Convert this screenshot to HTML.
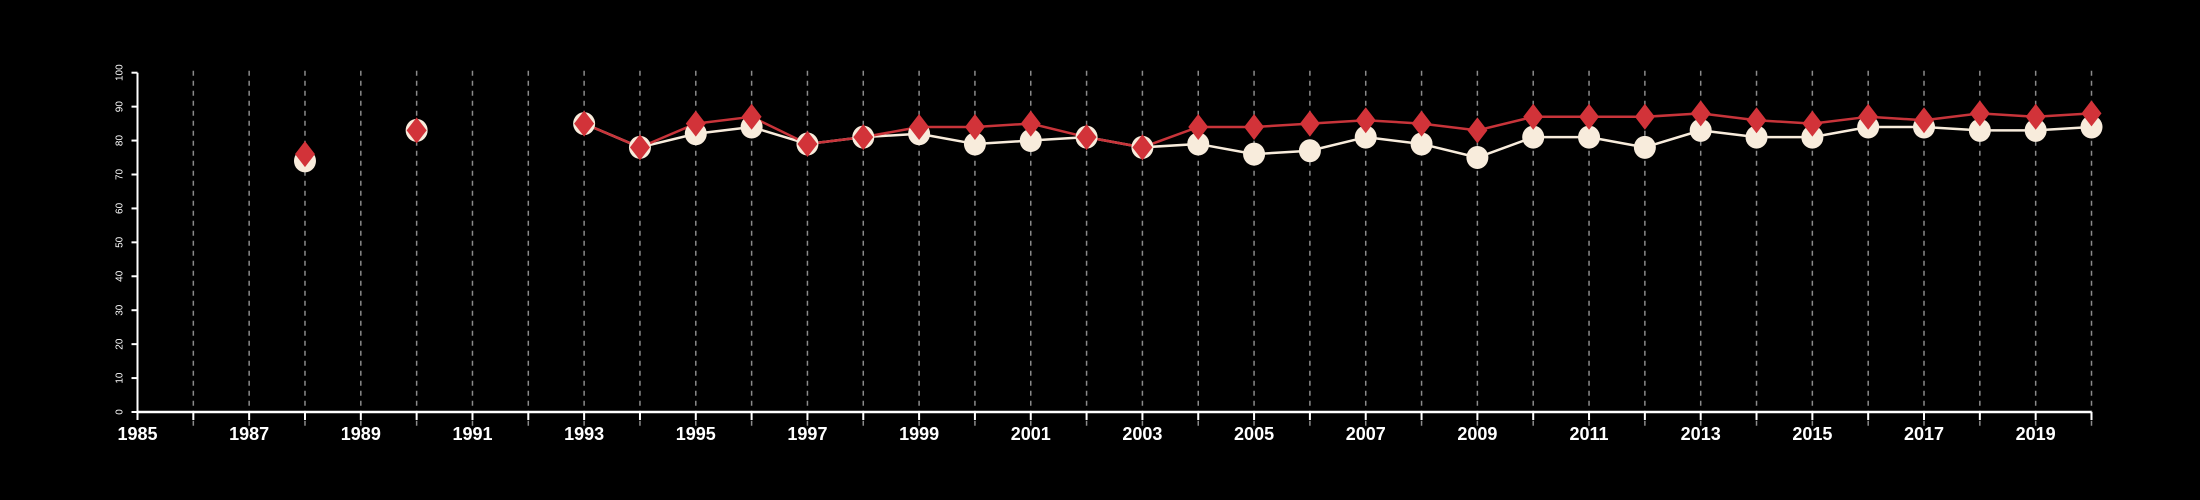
<!DOCTYPE html>
<html><head><meta charset="utf-8"><style>
html,body{margin:0;padding:0;background:#000;}
svg{display:block;font-family:"Liberation Sans",sans-serif;}
</style></head><body>
<svg id="chart" width="2200" height="500" viewBox="0 0 2200 500" xmlns="http://www.w3.org/2000/svg">
<rect width="2200" height="500" fill="#000"/>
<g id="grid"></g>
<g id="axes"></g>
<g id="series"></g>
</svg>
<script>
const years = [1988,1990,1993,1994,1995,1996,1997,1998,1999,2000,2001,2002,2003,2004,2005,2006,2007,2008,2009,2010,2011,2012,2013,2014,2015,2016,2017,2018,2019,2020];
const whiteValues = [74,83,85,78,82,84,79,81,82,79,80,81,78,79,76,77,81,79,75,81,81,78,83,81,81,84,84,83,83,84];
const redValues = [76,83,85,78,85,87,79,81,84,84,85,81,78,84,84,85,86,85,83,87,87,87,88,86,85,87,86,88,87,88];
const yTicks = [0,10,20,30,40,50,60,70,80,90,100];
const xLabels = [1985,1987,1989,1991,1993,1995,1997,1999,2001,2003,2005,2007,2009,2011,2013,2015,2017,2019];

const NS = "http://www.w3.org/2000/svg";
const X0 = 137.5, X1 = 2091.5, Y0 = 412, Y1 = 72.7;
const xMin = 1985, xMax = 2020;
const xs = v => X0 + (v - xMin) / (xMax - xMin) * (X1 - X0);
const ys = v => Y0 - v / 100 * (Y0 - Y1);
function mk(tag, attrs, parent){const e=document.createElementNS(NS,tag);for(const k in attrs)e.setAttribute(k,attrs[k]);parent.appendChild(e);return e;}
const grid=document.getElementById('grid'), axes=document.getElementById('axes'), series=document.getElementById('series');

for(let y=xMin+1;y<=xMax;y++){
  const l=mk('line',{x1:xs(y),x2:xs(y),y1:Y1-2,y2:Y0+14,stroke:'#8a8a8a','stroke-width':1.5,'stroke-dasharray':'5,5'},grid);
  
  
}
const xa=mk('line',{x1:X0,x2:X1,y1:Y0,y2:Y0,stroke:'#fff','stroke-width':2.5},axes);


const ya=mk('line',{x1:X0,x2:X0,y1:Y0,y2:Y1,stroke:'#fff','stroke-width':2},axes);


for(let y=xMin;y<=xMax;y++){
  const t=mk('line',{x1:xs(y),x2:xs(y),y1:Y0,y2:Y0+8,stroke:'#fff','stroke-width':2},axes);
  
  
}
xLabels.forEach(v=>{
  const t=mk('text',{x:xs(v),y:Y0+28,fill:'#fff','font-size':18,'font-weight':'bold','text-anchor':'middle'},axes);
  t.textContent=v;
  
  
});
yTicks.forEach(v=>{
  const t=mk('line',{x1:X0-6,x2:X0,y1:ys(v),y2:ys(v),stroke:'#fff','stroke-width':2},axes);
  
  
  const tx=mk('text',{x:0,y:0,fill:'#fff','font-size':10,'text-anchor':'middle',transform:`translate(${X0-15},${ys(v)}) rotate(-90)`},axes);
  tx.textContent=v;
  
  
});

function drawLines(vals,color,name){
  for(let i=1;i<years.length;i++){
    if(years[i]-years[i-1]!==1) continue;
    const l=mk('line',{x1:xs(years[i-1]),y1:ys(vals[i-1]),x2:xs(years[i]),y2:ys(vals[i]),stroke:color,'stroke-width':2.5},series);
    
    
  }
}
drawLines(whiteValues,'#f8ecdc','white-series');
drawLines(redValues,'#c8343a','red-series');
years.forEach((y,i)=>{
  const c=mk('ellipse',{cx:xs(y),cy:ys(whiteValues[i]),rx:11,ry:11.5,fill:'#f8ecdc'},series);
  
  
});
years.forEach((y,i)=>{
  const cx=xs(y), cy=ys(redValues[i]);
  const d=mk('polygon',{points:`${cx},${cy-13} ${cx+10},${cy} ${cx},${cy+13} ${cx-10},${cy}`,fill:'#d23339'},series);
  
  
});
</script>
</body></html>
